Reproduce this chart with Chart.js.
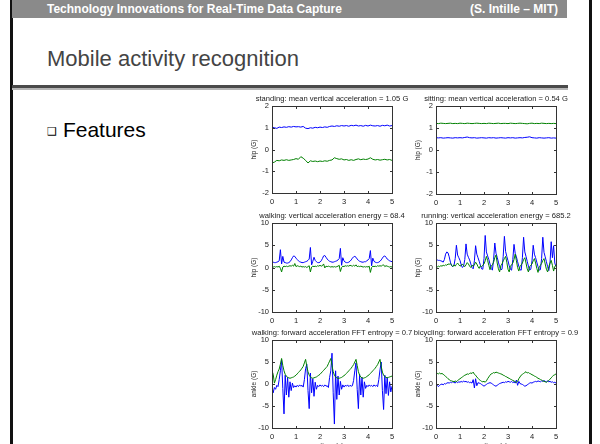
<!DOCTYPE html>
<html>
<head>
<meta charset="utf-8">
<script src="https://cdn.jsdelivr.net/npm/chart.js@4.4.0/dist/chart.umd.min.js"></script>
<style>
  html, body { margin: 0; padding: 0; width: 600px; height: 444px; overflow: hidden; background: #fff; }
  #slide { position: relative; width: 600px; height: 444px; font-family: "Liberation Sans", Arial, sans-serif; }
  .vbar { position: absolute; top: 0; width: 3px; height: 444px; background: #111; }
  #head { position: absolute; left: 12px; top: 0; width: 555px; height: 18px; background: #8a8a8a; color: #fff;
          font-weight: bold; font-size: 12px; line-height: 18px; }
  #head .l { position: absolute; left: 35px; }
  #head .r { position: absolute; right: 9px; }
  #title { position: absolute; left: 47px; top: 48px; font-size: 22px; line-height: 22px; color: #444; }
  #rule1 { position: absolute; left: 12px; top: 85px; width: 556px; height: 3px; background: #4a4a4a; }
  #rule2 { position: absolute; left: 12px; top: 88px; width: 556px; height: 2px; background: #b5b5b5; }
  #bullet { position: absolute; left: 47px; top: 120px; font-size: 21px; line-height: 20px; color: #000; }
  #bullet .sq { font-family: "DejaVu Sans"; font-size: 11px; vertical-align: 2px; margin-right: 6px; }
  canvas { position: absolute; }
</style>
</head>
<body>
<div id="slide">
  <div class="vbar" style="left:10px"></div>
  <div class="vbar" style="left:589px"></div>
  <div id="head"><span class="l">Technology Innovations for Real-Time Data Capture</span><span class="r">(S. Intille – MIT)</span></div>
  <div id="title">Mobile activity recognition</div>
  <div id="rule1"></div><div id="rule2"></div>
  <div id="bullet"><span class="sq">❑</span>Features</div>
</div>
<script>
// sample grids (s)
const TIME_10 = Array.from({ length: 51 }, (_, i) => +(i / 10).toFixed(2));
const TIME_20 = Array.from({ length: 101 }, (_, i) => +(i / 20).toFixed(2));
const X_TICKS = [0, 1, 2, 3, 4, 5];
const Y_TICKS_SMALL = [-2, -1, 0, 1, 2];
const Y_TICKS_BIG = [-10, -5, 0, 5, 10];

// standing (hip)
const standBlue = [1.02,1.00,0.97,1.03,1.01,1.04,1.02,1.05,1.03,1.06,
  1.04,1.05,1.03,1.06,0.98,0.96,1.00,0.98,1.02,1.00,
  1.03,1.01,1.04,1.02,1.06,1.08,1.06,1.09,1.07,1.10,
  1.08,1.10,1.07,1.11,1.09,1.12,1.08,1.10,1.07,1.11,
  1.08,1.12,1.09,1.08,1.10,1.07,1.11,1.09,1.12,1.08,
  1.10];
const standGreen = [-0.62,-0.58,-0.50,-0.52,-0.48,-0.50,-0.47,-0.50,-0.48,-0.46,
  -0.42,-0.45,-0.33,-0.40,-0.50,-0.62,-0.52,-0.55,-0.53,-0.56,
  -0.53,-0.55,-0.52,-0.54,-0.50,-0.48,-0.38,-0.42,-0.45,-0.43,
  -0.48,-0.46,-0.50,-0.47,-0.50,-0.46,-0.43,-0.47,-0.44,-0.46,
  -0.44,-0.38,-0.45,-0.48,-0.46,-0.49,-0.47,-0.45,-0.48,-0.46,
  -0.50];

// sitting (hip)
const sitBlue = [0.56,0.55,0.56,0.54,0.55,0.56,0.55,0.54,0.56,0.55,
  0.56,0.55,0.57,0.59,0.56,0.55,0.56,0.54,0.55,0.56,
  0.55,0.54,0.56,0.55,0.56,0.54,0.55,0.56,0.55,0.54,
  0.56,0.55,0.56,0.54,0.55,0.56,0.55,0.57,0.58,0.60,
  0.56,0.55,0.54,0.56,0.55,0.54,0.55,0.56,0.54,0.55,
  0.54];
const sitGreen = [1.21,1.20,1.22,1.21,1.20,1.21,1.22,1.20,1.21,1.20,
  1.22,1.21,1.20,1.22,1.21,1.20,1.21,1.22,1.21,1.20,
  1.21,1.20,1.22,1.21,1.20,1.21,1.22,1.20,1.21,1.21,
  1.20,1.22,1.21,1.20,1.21,1.22,1.21,1.20,1.19,1.21,
  1.22,1.20,1.21,1.20,1.22,1.21,1.20,1.21,1.20,1.21,
  1.20];

// walking (hip)
const walkHipBlue = [1.3,1.2,1.1,1.1,1.2,1.3,1.5,4.0,0.8,2.5,
  1.2,1.1,1.0,1.0,1.1,1.3,1.7,2.2,2.6,2.5,
  2.1,1.8,1.5,1.3,1.2,1.1,1.1,1.2,1.3,1.4,
  1.6,1.9,4.5,0.6,1.4,2.3,1.6,1.3,1.1,1.1,
  1.2,1.5,2.0,2.6,2.7,2.3,1.9,1.6,1.4,1.3,
  1.2,1.2,1.3,1.4,1.5,1.7,2.0,4.3,0.5,2.2,
  1.5,1.2,1.1,1.1,1.2,1.4,1.7,2.1,2.4,2.5,
  2.3,1.9,1.6,1.4,1.3,1.2,1.2,1.3,1.3,1.5,
  1.7,2.0,3.8,0.4,2.1,1.4,1.2,1.1,1.1,1.2,
  1.4,1.7,2.1,2.5,2.6,2.3,1.9,1.7,1.5,1.4,
  1.3];
const walkHipGreen = [0.2,0.1,0.2,0.1,0.2,0.1,0.3,-0.2,-1.0,0.1,
  0.3,0.2,0.3,0.2,0.3,0.4,0.3,0.5,0.3,0.9,
  0.2,0.4,0.3,0.2,0.3,0.1,0.2,0.1,0.2,0.0,
  0.2,0.4,-1.0,0.1,0.3,0.2,0.3,0.2,0.4,0.3,
  0.5,0.3,0.4,0.8,-0.1,0.3,0.2,0.3,0.2,0.1,
  0.2,0.1,0.2,0.1,0.2,0.3,0.5,-0.9,0.0,0.3,
  0.2,0.4,0.3,0.4,0.3,0.5,0.4,0.3,0.5,0.3,
  0.6,0.2,0.3,0.2,0.3,0.2,0.1,0.2,0.1,0.2,
  0.1,0.3,-1.1,0.0,0.3,0.2,0.3,0.2,0.4,0.3,
  0.4,0.3,0.5,0.6,0.2,0.4,0.3,0.2,0.1,0.2,
  0.1];

// running (hip)
const runHipBlue = [1.8,1.7,1.6,1.6,1.5,1.4,1.2,1.8,3.0,3.5,
  3.3,2.4,1.2,0.4,0.2,0.5,2.0,5.0,2.8,2.2,
  1.6,0.6,0.0,0.3,1.8,5.3,3.0,2.3,1.7,0.8,
  0.0,-0.3,1.5,4.9,3.0,2.2,1.4,0.5,-0.3,-0.4,
  2.0,7.2,3.5,2.6,1.8,0.8,-0.2,-0.6,1.8,5.5,
  3.2,2.3,1.2,0.2,-0.5,-0.4,2.5,7.0,3.6,2.5,
  1.5,0.4,-0.4,-0.6,1.8,5.2,3.2,2.4,1.3,0.3,
  -0.5,-0.6,2.2,6.8,3.5,2.5,1.4,0.3,-0.6,-0.4,
  1.5,5.0,3.0,2.2,1.2,0.2,-0.6,-0.5,2.0,6.8,
  3.4,2.4,1.3,0.2,-0.7,1.0,5.8,2.2,4.9,1.0,
  0.2];
const runHipGreen = [0.0,0.1,0.3,0.2,0.4,0.3,0.5,0.4,0.6,0.5,
  0.8,0.7,0.9,0.5,0.2,0.6,0.3,0.7,1.0,0.6,
  0.3,0.5,0.8,0.4,0.2,0.6,1.1,0.8,0.3,0.0,
  0.5,0.3,0.6,1.2,0.8,0.2,-0.2,0.4,0.2,0.5,
  0.8,1.5,2.5,1.6,0.5,-0.5,0.3,0.6,1.2,2.2,
  2.8,1.0,-0.3,-1.0,0.4,0.8,1.5,2.0,2.5,1.2,
  -0.4,-1.0,0.3,0.6,1.0,1.8,3.0,1.5,0.0,-0.8,
  0.2,0.6,1.0,1.8,2.2,1.0,-0.3,-1.0,0.2,0.5,
  0.8,1.5,2.0,1.0,-0.2,-1.1,0.0,0.5,0.9,1.6,
  2.0,0.8,-0.4,-1.0,0.2,1.0,1.6,0.5,-0.8,0.2,
  0.6];

// walking (ankle)
const walkAnkleBlue = [-0.5,-2.0,-0.8,-1.2,-0.3,-0.6,1.0,3.0,5.5,-1.0,
  -6.8,2.0,-2.5,1.5,-3.0,0.5,-1.5,0.2,-0.8,-0.4,
  -0.7,-0.3,-0.6,-0.2,-0.5,-0.3,-0.7,1.0,3.5,4.5,
  -1.5,-5.6,2.5,-2.0,1.2,-2.8,0.4,-1.2,-0.3,-0.6,
  -0.2,-0.5,-0.3,-0.6,-0.2,-0.5,-0.4,-0.8,1.5,3.0,
  7.0,-2.0,-9.1,3.0,-3.5,1.8,-2.5,0.6,-1.2,-0.2,
  -0.7,-0.3,-0.5,-0.2,-0.6,-0.3,-0.5,-0.4,0.8,3.0,
  4.8,-1.2,-5.6,2.2,-2.5,1.5,-3.0,0.5,-1.0,-0.3,
  -0.6,-0.2,-0.5,-0.3,-0.6,-0.2,-0.5,-0.3,-0.6,1.0,
  3.2,5.0,-1.5,-5.8,2.0,-2.2,1.5,-2.6,0.5,-1.8,
  -0.5];
const walkAnkleGreen = [3.0,2.2,0.2,1.0,2.0,2.8,3.4,4.5,5.8,4.2,
  3.0,2.2,1.8,1.5,1.4,1.3,1.4,1.5,1.6,1.8,
  2.0,2.3,2.6,2.9,3.2,3.6,4.0,4.8,5.6,4.0,
  2.8,2.0,1.6,1.4,1.3,1.4,1.5,1.6,1.8,2.0,
  2.2,2.5,2.8,3.1,3.4,3.7,4.0,4.6,5.2,5.8,
  4.2,2.8,2.0,1.6,1.4,1.3,1.3,1.4,1.5,1.7,
  1.9,2.1,2.4,2.7,3.0,3.3,3.6,4.0,4.4,5.0,
  5.6,4.2,2.8,2.0,1.6,1.4,1.3,1.4,1.5,1.7,
  1.9,2.1,2.4,2.7,3.0,3.3,3.6,4.0,4.4,5.0,
  5.6,4.0,2.7,2.0,1.7,1.5,1.4,1.5,1.6,1.7,
  1.8];

// bicycling (ankle)
const bikeBlue = [0.0,-0.3,-0.6,-0.3,-0.1,0.0,-0.2,0.1,0.0,0.2,
  0.3,0.2,0.4,0.3,0.5,0.4,0.2,0.6,0.3,0.5,
  0.4,0.6,0.4,0.7,0.5,0.6,0.4,0.5,0.3,0.4,
  0.2,1.0,-0.9,1.2,-0.4,0.3,0.2,0.1,-0.1,-0.3,
  -0.5,-0.3,-0.1,0.1,0.2,0.3,0.2,0.0,-0.2,-0.4,
  -0.5,-0.3,-0.1,0.1,0.2,0.3,0.4,0.3,0.5,0.4,
  0.6,0.5,0.4,0.6,0.3,0.5,0.2,0.9,-0.3,0.6,
  0.1,0.0,-0.1,-0.3,-0.5,-0.4,-0.2,0.0,0.2,0.3,
  0.2,0.4,0.5,0.6,0.5,0.7,0.6,0.5,0.7,0.6,
  0.8,0.6,0.5,0.7,0.5,0.6,0.4,0.5,0.3,0.4,
  0.2];
const bikeGreen = [2.2,2.4,2.3,2.5,2.3,2.4,2.2,2.0,1.7,1.5,
  1.2,1.0,0.8,0.7,0.6,0.5,0.7,0.5,0.8,1.0,
  1.2,1.4,1.6,1.8,2.0,2.1,2.3,2.2,2.4,2.5,
  2.4,2.7,2.2,2.0,1.6,1.3,1.0,0.8,0.6,0.5,
  0.6,0.4,0.7,1.2,1.6,2.0,2.3,2.4,2.6,2.5,
  2.7,2.6,2.5,2.4,2.3,2.2,2.0,1.9,1.7,1.6,
  1.4,1.3,1.1,1.0,0.8,0.7,0.5,0.4,0.6,1.2,
  1.6,2.0,2.2,2.4,2.6,2.8,2.5,2.6,2.4,2.3,
  2.1,2.0,1.8,1.7,1.5,1.3,1.2,1.0,0.9,0.7,
  0.6,0.5,0.4,0.6,0.8,1.1,1.4,1.7,2.0,2.1,
  2.3];

const panels = [
  { title: "standing: mean vertical acceleration = 1.05 G", ylabel: "hip (G)", yr: [-2, 2], yt: Y_TICKS_SMALL,
    t: TIME_10, blue: standBlue, green: standGreen, box: [272, 106, 120, 87] },
  { title: "sitting: mean vertical acceleration = 0.54 G", ylabel: "hip (G)", yr: [-2, 2], yt: Y_TICKS_SMALL,
    t: TIME_10, blue: sitBlue, green: sitGreen, box: [436, 106, 120, 88] },
  { title: "walking: vertical acceleration energy = 68.4", ylabel: "hip (G)", yr: [-10, 10], yt: Y_TICKS_BIG,
    t: TIME_20, blue: walkHipBlue, green: walkHipGreen, box: [272, 223, 120, 89] },
  { title: "running: vertical acceleration energy = 685.2", ylabel: "hip (G)", yr: [-10, 10], yt: Y_TICKS_BIG,
    t: TIME_20, blue: runHipBlue, green: runHipGreen, box: [436, 223, 120, 89] },
  { title: "walking: forward acceleration FFT entropy = 0.7", ylabel: "ankle (G)", yr: [-10, 10], yt: Y_TICKS_BIG,
    t: TIME_20, blue: walkAnkleBlue, green: walkAnkleGreen, box: [272, 340, 120, 88], xlabel: "time (s)" },
  { title: "bicycling: forward acceleration FFT entropy = 0.9", ylabel: "ankle (G)", yr: [-10, 10], yt: Y_TICKS_BIG,
    t: TIME_20, blue: bikeBlue, green: bikeGreen, box: [436, 340, 120, 88], xlabel: "time (s)" }
];

Chart.defaults.font.family = '"Liberation Sans", Arial, sans-serif';
Chart.defaults.color = "#222";

// matlab style frame, inner ticks and title
const matlabBox = {
  id: "matlabBox",
  afterDatasetsDraw(chart, args, opts) {
    const { ctx, chartArea: a, scales: { x, y } } = chart;
    const L = Math.round(a.left) + 0.5, R = Math.round(a.right) + 0.5;
    const T = Math.round(a.top) + 0.5, B = Math.round(a.bottom) + 0.5;
    ctx.save();
    ctx.strokeStyle = "#333";
    ctx.lineWidth = 1;
    ctx.strokeRect(L, T, R - L, B - T);
    ctx.beginPath();
    x.ticks.forEach(tk => {
      const px = Math.round(x.getPixelForValue(tk.value)) + 0.5;
      ctx.moveTo(px, T); ctx.lineTo(px, T + 2.5);
      ctx.moveTo(px, B); ctx.lineTo(px, B - 2.5);
    });
    y.ticks.forEach(tk => {
      const py = Math.round(y.getPixelForValue(tk.value)) + 0.5;
      ctx.moveTo(L, py); ctx.lineTo(L + 2.5, py);
      ctx.moveTo(R, py); ctx.lineTo(R - 2.5, py);
    });
    ctx.stroke();
    ctx.fillStyle = "#222";
    ctx.font = '7.6px "Liberation Sans", Arial, sans-serif';
    ctx.textAlign = "center";
    ctx.textBaseline = "alphabetic";
    ctx.fillText(opts.text, (a.left + a.right) / 2, a.top - 5);
    ctx.restore();
  }
};

panels.forEach((p, i) => {
  const canvas = document.createElement("canvas");
  canvas.width = 220;
  canvas.height = p.xlabel ? 140 : 125;
  document.getElementById("slide").appendChild(canvas);

  const chart = new Chart(canvas, {
    type: "line",
    data: {
      labels: p.t,
      datasets: [
        { data: p.green, borderColor: "#008000", borderWidth: 1, pointRadius: 0, order: 0 },
        { data: p.blue, borderColor: "#0000ff", borderWidth: 1, pointRadius: 0, order: 1 }
      ]
    },
    options: {
      responsive: false,
      maintainAspectRatio: false,
      animation: false,
      devicePixelRatio: 1,
      layout: { padding: { top: 14, right: 34, left: 14, bottom: 0 } },
      plugins: { legend: { display: false }, tooltip: { enabled: false }, matlabBox: { text: p.title } },
      scales: {
        x: {
          type: "linear", min: 0, max: 5,
          afterBuildTicks: s => { s.ticks = X_TICKS.map(v => ({ value: v })); },
          grid: { display: false, drawTicks: false },
          border: { display: false },
          ticks: { font: { size: 7.5 }, padding: 4, maxRotation: 0, color: "#222" },
          title: { display: !!p.xlabel, text: p.xlabel || "", font: { size: 7 }, padding: { top: -3, bottom: 0 }, color: "#222" }
        },
        y: {
          min: p.yr[0], max: p.yr[1],
          afterBuildTicks: s => { s.ticks = p.yt.map(v => ({ value: v })); },
          afterFit: s => { s.width = 30; },
          grid: { display: false, drawTicks: false },
          border: { display: false },
          ticks: { font: { size: 7.5 }, padding: 3, color: "#222" },
          title: { display: true, text: p.ylabel, font: { size: 6.5 }, padding: { top: 8, bottom: 0 }, color: "#222" }
        }
      }
    },
    plugins: [matlabBox]
  });

  // fit the plot box to the reference position
  const [bx, by, bw, bh] = p.box;
  for (let k = 0; k < 3; k++) {
    const a = chart.chartArea;
    const w = chart.width + (bw - (a.right - a.left));
    const h = chart.height + (bh - (a.bottom - a.top));
    chart.resize(w, h);
  }
  const a = chart.chartArea;
  canvas.style.left = (bx - a.left) + "px";
  canvas.style.top = (by - a.top) + "px";
});
</script>
</body>
</html>
